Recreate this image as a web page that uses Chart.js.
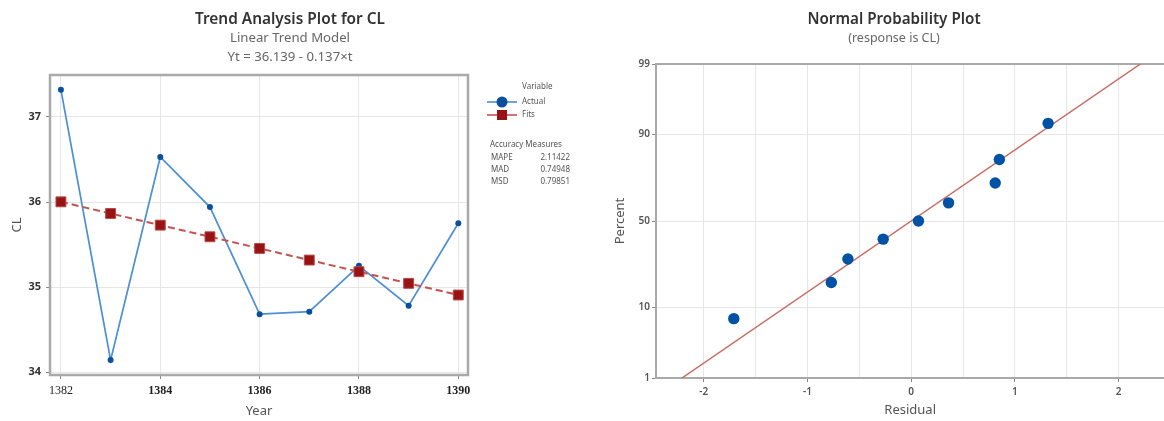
<!DOCTYPE html>
<html><head><meta charset="utf-8">
<script src="https://cdn.jsdelivr.net/npm/chart.js@4.4.1/dist/chart.umd.min.js"></script>
<style>
html,body{margin:0;padding:0;background:#fff;overflow:hidden;width:1164px;height:421px;position:relative;}
#c1{position:absolute;left:0;top:0;}
#c2{position:absolute;left:582px;top:0;}
</style></head><body>
<canvas id="c1" width="582" height="421"></canvas>
<canvas id="c2" width="588" height="421"></canvas>
<script>
// ---- Trend analysis data ----
const years = [1382,1383,1384,1385,1386,1387,1388,1389,1390];
const actualCL = [37.32,34.14,36.53,35.94,34.68,34.71,35.25,34.78,35.75];
const fitsCL = [36.002,35.865,35.728,35.591,35.454,35.317,35.180,35.043,34.906];
const yearTicks = [1382,1384,1386,1388,1390];
const clTicks = [34,35,36,37];
const accuracyLabels = ['MAPE','MAD','MSD'];
const accuracyValues = ['2.11422','0.74948','0.79851'];

// ---- Normal probability plot data ----
const residuals = [-1.71,-0.77,-0.61,-0.27,0.07,0.36,0.81,0.85,1.32];
const percents = [7.4,18.1,28.7,39.4,50.0,60.6,71.3,81.9,92.6];
const fitLineResidual = [-2.21, 2.21];
const fitLinePercent = [1, 99];
const percentTicks = [1,10,50,90,99];
const residualTicks = [-2,-1.5,-1,-0.5,0,0.5,1,1.5,2];

// inverse standard normal CDF (probability-scale transform)
function probit(p){
  const a=[-3.969683028665376e+01,2.209460984245205e+02,-2.759285104469687e+02,1.383577518672690e+02,-3.066479806614716e+01,2.506628277459239e+00];
  const b=[-5.447609879822406e+01,1.615858368580409e+02,-1.556989798598866e+02,6.680131188771972e+01,-1.328068155288572e+01];
  const c=[-7.784894002430293e-03,-3.223964580411365e-01,-2.400758277161838e+00,-2.549732539343734e+00,4.374664141464968e+00,2.938163982698783e+00];
  const d=[7.784695709041462e-03,3.224671290700398e-01,2.445134137142996e+00,3.754408661907416e+00];
  const pl=0.02425;
  if(p<pl){const q=Math.sqrt(-2*Math.log(p));return (((((c[0]*q+c[1])*q+c[2])*q+c[3])*q+c[4])*q+c[5])/((((d[0]*q+d[1])*q+d[2])*q+d[3])*q+1);}
  if(p>1-pl){const q=Math.sqrt(-2*Math.log(1-p));return -(((((c[0]*q+c[1])*q+c[2])*q+c[3])*q+c[4])*q+c[5])/((((d[0]*q+d[1])*q+d[2])*q+d[3])*q+1);}
  const q=p-0.5,r=q*q;return (((((a[0]*r+a[1])*r+a[2])*r+a[3])*r+a[4])*r+a[5])*q/(((((b[0]*r+b[1])*r+b[2])*r+b[3])*r+b[4])*r+1);
}

const SANS = '"Noto Sans", "Open Sans", sans-serif';
const GRID = '#e6e6e6';
const FRAME = '#a9a9a9';
const BLUE_LINE = '#4d8fd4';
const BLUE_PT = '#0a4f9e';
const RED_LINE = '#c4534f';
const RED_PT = '#981414';

function textPlugin(items){
  return { id:'texts', afterDraw(chart){
    const ctx = chart.ctx; ctx.save();
    items.forEach(t=>{
      ctx.font = t.font; ctx.fillStyle = t.color; ctx.textAlign = t.align||'center'; ctx.textBaseline='middle';
      ctx.fillText(t.text, t.x, t.y);
    });
    ctx.restore();
  }};
}

// ---------- Left chart ----------
const leftFrame = { id:'frame', beforeDatasetsDraw(chart){
  const {ctx, chartArea:a} = chart; ctx.save();
  ctx.strokeStyle = FRAME; ctx.lineWidth = 2.5;
  ctx.strokeRect(a.left, a.top, a.right-a.left, a.bottom-a.top);
  ctx.restore();
}};
const leftLegend = { id:'leg', afterDraw(chart){
  const ctx = chart.ctx; ctx.save();
  ctx.font = '8px '+SANS; ctx.fillStyle = '#555'; ctx.textBaseline='middle'; ctx.textAlign='left';
  ctx.fillText('Variable', 522, 87);
  const ds = chart.data.datasets;
  // Actual
  ctx.strokeStyle = BLUE_LINE; ctx.lineWidth = 1.6;
  ctx.beginPath(); ctx.moveTo(487,102); ctx.lineTo(517,102); ctx.stroke();
  ctx.fillStyle = BLUE_PT; ctx.beginPath(); ctx.arc(502,102,5.5,0,Math.PI*2); ctx.fill();
  // Fits
  ctx.strokeStyle = RED_LINE; ctx.lineWidth = 1.6;
  ctx.beginPath(); ctx.moveTo(487,115); ctx.lineTo(517,115); ctx.stroke();
  ctx.fillStyle = RED_PT; ctx.fillRect(497,110,10,10);
  ctx.fillStyle = '#555';
  ctx.fillText(ds[1].label, 522, 102);
  ctx.fillText(ds[0].label, 522, 115);
  ctx.fillText('Accuracy Measures', 490, 145);
  accuracyLabels.forEach((l,i)=>{
    ctx.textAlign='left'; ctx.fillText(l, 491, 158+12*i);
    ctx.textAlign='right'; ctx.fillText(accuracyValues[i], 570, 158+12*i);
  });
  ctx.restore();
}};

new Chart(document.getElementById('c1'), {
  type:'line',
  data:{ datasets:[
    { label:'Fits', data: years.map((y,i)=>({x:y, y:fitsCL[i]})), order:1,
      borderColor: RED_LINE, borderWidth:2, borderDash:[7,4],
      pointStyle:'rect', pointRadius:7, pointBackgroundColor:RED_PT, pointBorderColor:'#b84a4a', pointBorderWidth:1 },
    { label:'Actual', data: years.map((y,i)=>({x:y, y:actualCL[i]})), order:2,
      borderColor: BLUE_LINE, borderWidth:1.7,
      pointStyle:'circle', pointRadius:3, pointBackgroundColor:BLUE_PT, pointBorderWidth:0 }
  ]},
  options:{
    responsive:false, animation:false, devicePixelRatio:1,
    layout:{ padding:{ top:75, right:114, left:0, bottom:0 } },
    plugins:{ legend:{display:false}, tooltip:{enabled:false} },
    scales:{
      x:{ type:'linear', min:1381.78, max:1390.195,
        afterFit(s){ s.height = 46; },
        afterBuildTicks(s){ s.ticks = yearTicks.map(v=>({value:v})); },
        grid:{ color:GRID, tickLength:4, tickColor:'#888' },
        border:{ display:false },
        ticks:{ autoSkip:false, maxRotation:0, padding:5, color:'#222',
          callback:(v)=>String(v),
          font:(c)=>({ family:'"Liberation Serif", serif', size:12, weight: c.index===0 ? 'normal' : 'bold' }) },
        title:{ display:true, text:'Year', color:'#555', font:{family:SANS, size:13}, padding:{top:0,bottom:2} }
      },
      y:{ type:'linear', min:33.965, max:37.494,
        afterFit(s){ s.width = 50; },
        afterBuildTicks(s){ s.ticks = clTicks.map(v=>({value:v})); },
        grid:{ color:GRID, tickLength:4, tickColor:'#888' },
        border:{ display:false },
        ticks:{ padding:5, color:'#333', font:{family:SANS, size:11, weight:'bold'}, callback:(v)=>String(v) },
        title:{ display:true, text:'CL', color:'#555', font:{family:SANS, size:13}, padding:{top:9,bottom:0} }
      }
    }
  },
  plugins:[leftFrame, leftLegend, textPlugin([
    {text:'Trend Analysis Plot for CL', x:290, y:20, font:'600 15.4px '+SANS, color:'#333'},
    {text:'Linear Trend Model', x:290, y:38, font:'13.2px '+SANS, color:'#666'},
    {text:'Yt = 36.139 - 0.137\u00D7t', x:290, y:57, font:'13.2px '+SANS, color:'#666'}
  ])]
});

// ---------- Right chart ----------
const topBorder = { id:'topb', beforeDatasetsDraw(chart){
  const {ctx, chartArea:a} = chart; ctx.save();
  ctx.strokeStyle = FRAME; ctx.lineWidth = 2;
  ctx.beginPath(); ctx.moveTo(a.left, a.top); ctx.lineTo(a.right+10, a.top); ctx.stroke();
  ctx.restore();
}};

new Chart(document.getElementById('c2'), {
  type:'scatter',
  data:{ datasets:[
    { label:'Residuals', data: residuals.map((r,i)=>({x:r, y:probit(percents[i]/100)})), order:1,
      pointRadius:5.7, pointBackgroundColor:'#0052a5', pointBorderWidth:0 },
    { label:'Fit', data: fitLineResidual.map((r,i)=>({x:r, y:probit(fitLinePercent[i]/100)})), order:2,
      showLine:true, borderColor:'#c86a62', borderWidth:1.5, pointRadius:0 }
  ]},
  options:{
    responsive:false, animation:false, devicePixelRatio:1,
    layout:{ padding:{ top:64, right:0, left:0, bottom:0 } },
    plugins:{ legend:{display:false}, tooltip:{enabled:false} },
    scales:{
      x:{ type:'linear', min:-2.46, max:2.44,
        afterFit(s){ s.height = 43; },
        afterBuildTicks(s){ s.ticks = residualTicks.map(v=>({value:v})); },
        grid:{ color:GRID, tickLength:4, tickColor:(c)=> (c.tick && Number.isInteger(c.tick.value)) ? '#888' : 'rgba(0,0,0,0)' },
        border:{ color:FRAME, width:2 },
        ticks:{ autoSkip:false, maxRotation:0, padding:4, color:'#555', font:{family:SANS, size:10, weight:'600'},
          callback:(v)=> Number.isInteger(v) ? String(v) : '' },
        title:{ display:true, text:'Residual', color:'#555', font:{family:SANS, size:13}, padding:{top:0,bottom:3} }
      },
      y:{ type:'linear', min:probit(0.01), max:probit(0.99),
        afterFit(s){ s.width = 74; },
        afterBuildTicks(s){ s.ticks = percentTicks.map(p=>({value:probit(p/100)})); },
        grid:{ color:GRID, tickLength:4, tickColor:'#888' },
        border:{ color:FRAME, width:2 },
        ticks:{ padding:2, color:'#555', font:{family:SANS, size:10, weight:'600'},
          callback:(v,i)=> String(percentTicks[i]) },
        title:{ display:true, text:'Percent', color:'#555', font:{family:SANS, size:13}, padding:{top:30,bottom:0} }
      }
    }
  },
  plugins:[topBorder, textPlugin([
    {text:'Normal Probability Plot', x:312, y:20, font:'600 15.2px '+SANS, color:'#333'},
    {text:'(response is CL)', x:312, y:38, font:'12.5px '+SANS, color:'#666'}
  ])]
});
</script>
</body></html>
